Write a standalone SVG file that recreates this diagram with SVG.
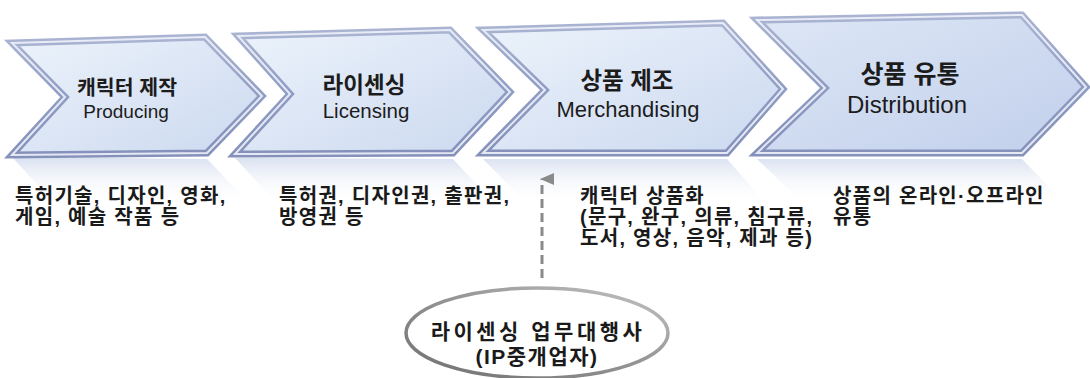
<svg xmlns="http://www.w3.org/2000/svg" width="1090" height="378" viewBox="0 0 1090 378">
<defs>
  <linearGradient id="chevFill" x1="0" y1="0" x2="1" y2="1">
    <stop offset="0" stop-color="#ecf3fb"/>
    <stop offset="1" stop-color="#cbd8ef"/>
  </linearGradient>
  <linearGradient id="chevFill4" x1="0" y1="0" x2="1" y2="1">
    <stop offset="0" stop-color="#dde7f6"/>
    <stop offset="1" stop-color="#c2cfeb"/>
  </linearGradient>
  <linearGradient id="bevel" x1="0" y1="0" x2="0" y2="1">
    <stop offset="0" stop-color="#aab4d2"/>
    <stop offset="0.5" stop-color="#8f9cc4"/>
    <stop offset="1" stop-color="#8591ba"/>
  </linearGradient>
  <linearGradient id="refl" gradientUnits="userSpaceOnUse" x1="0" y1="156" x2="0" y2="205">
    <stop offset="0" stop-color="#c9d4ea" stop-opacity="0.75"/>
    <stop offset="1" stop-color="#ffffff" stop-opacity="0"/>
  </linearGradient>
  <linearGradient id="ellStroke" x1="0" y1="1" x2="1" y2="0">
    <stop offset="0" stop-color="#6f6f6f"/>
    <stop offset="0.6" stop-color="#9a9a9a"/>
    <stop offset="1" stop-color="#c4c4c4"/>
  </linearGradient>
  <marker id="arrowUp" markerWidth="12" markerHeight="14" refX="6" refY="2" orient="auto-start-reverse" markerUnits="userSpaceOnUse" viewBox="0 0 12 14">
    <path d="M0,14 L6,0 L12,14 Z" fill="#8a8a8a"/>
  </marker>
  <style>
    .chev { fill: url(#chevFill); stroke: url(#bevel); stroke-width: 7; stroke-linejoin: miter; }
    .chev4 { fill: url(#chevFill4); }
    .hl { fill: none; stroke: #eef2fa; stroke-width: 2; stroke-linejoin: miter; opacity: 0.9; }
    .refl { fill: url(#refl); stroke: none; }
    .t { font-family: "Liberation Sans", "Noto Sans CJK KR", sans-serif; fill: #1c1c1c; text-anchor: middle; }
    .tk { font-weight: bold; }
    .body { font-family: "Liberation Sans", "Noto Sans CJK KR", sans-serif; font-weight: bold; font-size: 20px; fill: #1a1a1a; letter-spacing: 1.3px; }
    .conn { stroke: #8a8a8a; stroke-width: 3; stroke-dasharray: 9 5; fill: none; }
    .ell { fill: #ffffff; stroke: url(#ellStroke); stroke-width: 3.5; }
    .et { font-family: "Liberation Sans", "Noto Sans CJK KR", sans-serif; font-weight: bold; font-size: 21px; fill: #1a1a1a; text-anchor: middle; }
  </style>
</defs>
<rect width="1090" height="378" fill="#ffffff"/>

<g id="reflections">
  <polygon class="refl" points="12,157 207,159 262,216 205,275 12,269 65,215"/>
  <polygon class="refl" points="235,158 453,159 510,220 450,282 238,276 290,218"/>
  <polygon class="refl" points="483,159 727,159 783,223 723,289 483,282 545,222"/>
  <polygon class="refl" points="757,159 1022,159 1086,225 1022,297 757,292 825,224"/>
</g>

<g id="node-producing">
  <polygon class="chev" points="12,43 205,37 262,96 207,153 12,155 65,97"/>
  <polygon class="hl" points="12,43 205,37 262,96 207,153 12,155 65,97"/>
  <text class="t tk" x="127" y="95" font-size="20.5">캐릭터 제작</text>
  <text class="t" x="126" y="118" font-size="19">Producing</text>
</g>

<g id="node-licensing">
  <polygon class="chev" points="238,36 450,30 510,92 453,153 235,154 290,94"/>
  <polygon class="hl" points="238,36 450,30 510,92 453,153 235,154 290,94"/>
  <text class="t tk" x="364" y="93" font-size="22.5">라이센싱</text>
  <text class="t" x="366" y="118" font-size="20.5">Licensing</text>
</g>

<g id="node-merchandising">
  <polygon class="chev" points="483,30 723,23 783,89 727,153 483,153 545,90"/>
  <polygon class="hl" points="483,30 723,23 783,89 727,153 483,153 545,90"/>
  <text class="t tk" x="627" y="89" font-size="23.5">상품 제조</text>
  <text class="t" x="628" y="117" font-size="22">Merchandising</text>
</g>

<g id="node-distribution">
  <polygon class="chev chev4" points="757,20 1022,15 1086,87 1022,153 757,153 825,88"/>
  <polygon class="hl" points="757,20 1022,15 1086,87 1022,153 757,153 825,88"/>
  <text class="t tk" x="910" y="83" font-size="25">상품 유통</text>
  <text class="t" x="907" y="113" font-size="24">Distribution</text>
</g>

<g id="desc-producing">
  <text class="body" x="15" y="203">특허기술, 디자인, 영화,</text>
  <text class="body" x="15" y="224">게임, 예술 작품 등</text>
</g>
<g id="desc-licensing">
  <text class="body" x="279" y="203">특허권, 디자인권, 출판권,</text>
  <text class="body" x="279" y="224">방영권 등</text>
</g>
<g id="desc-merchandising">
  <text class="body" x="580" y="203">캐릭터 상품화</text>
  <text class="body" x="580" y="224">(문구, 완구, 의류, 침구류,</text>
  <text class="body" x="580" y="245">도서, 영상, 음악, 제과 등)</text>
</g>
<g id="desc-distribution">
  <text class="body" x="833" y="203">상품의 온라인·오프라인</text>
  <text class="body" x="833" y="224">유통</text>
</g>

<g id="connectors">
  <line class="conn" x1="542" y1="278" x2="542" y2="179" marker-end="url(#arrowUp)"/>
</g>

<g id="node-agent">
  <ellipse class="ell" cx="537" cy="333" rx="131" ry="45"/>
  <text class="et" x="538" y="339" letter-spacing="3.5">라이센싱 업무대행사</text>
  <text class="et" x="537" y="364" letter-spacing="1.5">(IP중개업자)</text>
</g>
</svg>
